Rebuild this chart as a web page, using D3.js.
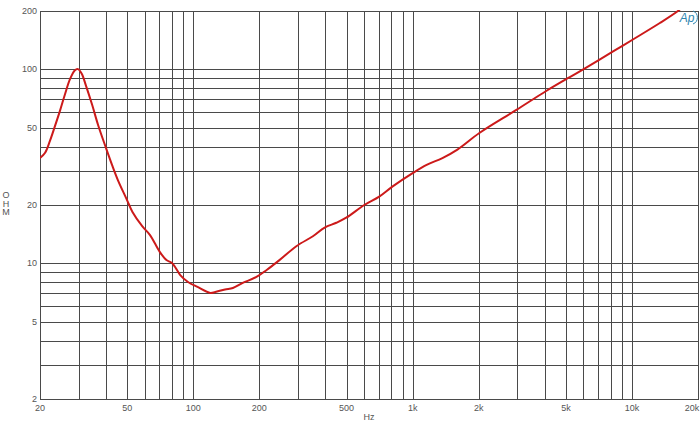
<!DOCTYPE html>
<html><head><meta charset="utf-8">
<script src="https://cdn.jsdelivr.net/npm/d3@7"></script>
<style>body{margin:0;background:#fff}svg{display:block}text{font-family:"Liberation Sans",Arial,sans-serif}</style>
</head><body><svg id="c" width="700" height="435"></svg>
<script>
const freqs = [20,21.1,22.2,23.4,24.7,26.0,27.4,28.8,29.8,31.0,32.4,34.6,36.8,40.0,42.6,45.3,49.7,52.8,58.6,63.5,70.2,75.4,79.9,82.6,87.2,94.6,104.5,119.6,125.9,139.5,151.5,168,194,216,247,296,351,397,449,498,602,704,805,1000,1158,1367,1600,2015,2970,4063,5075,6078,8200,10100,13400,16200,17000];
const ohms  = [34.9,37.2,42.8,51.0,61.5,74.5,89.0,98.8,100.3,95.0,82.5,65.5,51.7,39.3,32.2,26.9,21.4,18.4,15.5,14.0,11.5,10.4,10.05,9.58,8.71,8.02,7.56,7.04,7.12,7.34,7.47,7.93,8.51,9.25,10.4,12.3,13.8,15.3,16.2,17.2,20.0,22.1,24.8,29.2,32.2,34.9,38.6,47.0,61.8,77.4,89.8,101,123.7,142.6,173.4,200,210];
const xTickVals = [20,50,100,200,500,1000,2000,5000,10000,20000];
const xTickLabels = ["20","50","100","200","500","1k","2k","5k","10k","20k"];
const yTickVals = [2,5,10,20,50,100,200];
const yTickLabels = ["2","5","10","20","50","100","200"];
const xGrid = [30,40,50,60,70,80,90,100,200,300,400,500,600,700,800,900,1000,2000,3000,4000,5000,6000,7000,8000,9000,10000];
const yGrid = [3,4,5,6,7,8,9,10,20,30,40,50,60,70,80,90,100];

const svg = d3.select("#c");
const L=40,R=698,T=11,B=399;
const x = d3.scaleLog().domain([20,20000]).range([L,R]);
const y = d3.scaleLog().domain([2,200]).range([B,T]);
const g = svg.append("g");
const gc = "#4a4a4a";
g.selectAll(".vg").data(xGrid).join("line").attr("x1",d=>Math.round(x(d))+0.5).attr("x2",d=>Math.round(x(d))+0.5).attr("y1",T).attr("y2",B).attr("stroke",gc).attr("stroke-width",1);
g.selectAll(".hg").data(yGrid).join("line").attr("y1",d=>Math.round(y(d))+0.5).attr("y2",d=>Math.round(y(d))+0.5).attr("x1",L).attr("x2",R).attr("stroke",gc).attr("stroke-width",1);
g.append("rect").attr("x",L+0.5).attr("y",T+0.5).attr("width",R-L).attr("height",B-T).attr("fill","none").attr("stroke",gc);

svg.append("defs").append("clipPath").attr("id","clip").append("rect").attr("x",L).attr("y",T-1).attr("width",R-L).attr("height",B-T+1);
const line = d3.line().x((d,i)=>x(freqs[i])).y(d=>y(d)).curve(d3.curveCatmullRom.alpha(0.5));
svg.append("path").datum(ohms).attr("d",line).attr("fill","none").attr("stroke","#cc1a1a").attr("stroke-width",2).attr("stroke-linejoin","round").attr("clip-path","url(#clip)");

svg.selectAll(".xl").data(xTickVals).join("text").attr("x",(d,i)=>i===xTickVals.length-1?692:x(d)).attr("y",411).attr("text-anchor","middle").attr("font-size",9).attr("fill","#555").text((d,i)=>xTickLabels[i]);
svg.selectAll(".yl").data(yTickVals).join("text").attr("x",37).attr("y",d=>y(d)+3).attr("text-anchor","end").attr("font-size",9).attr("fill","#555").text((d,i)=>yTickLabels[i]);
svg.append("text").attr("x",369).attr("y",420).attr("text-anchor","middle").attr("font-size",9).attr("fill","#555").text("Hz");
["O","H","M"].forEach((c,i)=>svg.append("text").attr("x",6).attr("y",198+i*8.5).attr("text-anchor","middle").attr("font-size",9).attr("fill","#555").text(c));
svg.append("text").attr("x",687).attr("y",22).attr("text-anchor","middle").attr("font-size",12).attr("font-style","italic").attr("fill","#2f86b0").text("Ap");
svg.append("path").attr("d","M693,11 A7,7 0 0 1 693,24").attr("fill","none").attr("stroke","#2f86b0").attr("stroke-width",1);
</script></body></html>
